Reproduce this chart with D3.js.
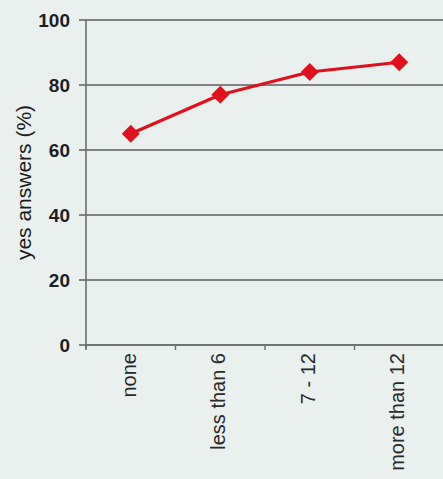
<!DOCTYPE html>
<html>
<head>
<meta charset="utf-8">
<script src="https://cdn.jsdelivr.net/npm/d3@7"></script>
<style>
  html, body { margin: 0; padding: 0; background: #e9f0ee; }
  svg { display: block; }
</style>
</head>
<body>
<script>
// Share of "yes" answers by number of sessions attended
const categories = ["none", "less than 6", "7 - 12", "more than 12"];
const yesValues = [65, 77, 84, 87];
const yTicks = [0, 20, 40, 60, 80, 100];

const W = 443, H = 479;
const margin = { top: 20, right: -1, bottom: 134, left: 86 };
const FONT = "Liberation Sans, Arial, sans-serif";

const svg = d3.select("body").append("svg")
  .attr("width", W).attr("height", H);

svg.append("rect").attr("width", W).attr("height", H).attr("fill", "#e9f0ee");

const x = d3.scaleBand()
  .domain(categories)
  .range([margin.left, W - margin.right]);

const y = d3.scaleLinear()
  .domain([0, 100])
  .range([H - margin.bottom, margin.top]);

// horizontal gridlines with small outer ticks
svg.append("g").selectAll("line")
  .data(yTicks)
  .join("line")
  .attr("x1", margin.left - 7)
  .attr("x2", W)
  .attr("y1", d => y(d))
  .attr("y2", d => y(d))
  .attr("stroke", "#5a5e5e")
  .attr("stroke-width", 1.6);

// y axis
const yAxis = svg.append("g")
  .attr("transform", `translate(${margin.left},0)`)
  .call(d3.axisLeft(y).tickValues(yTicks).tickSize(0).tickPadding(16));
yAxis.select(".domain").attr("stroke", "#6a6e6e").attr("stroke-width", 1.6)
  .attr("d", `M0,${y(0) + 4}V${y(100)}`);
yAxis.selectAll(".tick line").remove();
yAxis.selectAll("text")
  .attr("font-family", FONT)
  .attr("font-size", 19)
  .attr("font-weight", "bold")
  .attr("fill", "#1e1e1e");

// x axis with ticks at category boundaries
const xAxis = svg.append("g")
  .attr("transform", `translate(0,${y(0)})`);
xAxis.append("line")
  .attr("x1", margin.left).attr("x2", W)
  .attr("stroke", "#6a6e6e").attr("stroke-width", 1.6);
const bounds = categories.map(c => x(c)).concat([x(categories[categories.length - 1]) + x.bandwidth()]);
xAxis.selectAll("line.tk")
  .data(bounds)
  .join("line")
  .attr("class", "tk")
  .attr("x1", d => d).attr("x2", d => d)
  .attr("y1", 0).attr("y2", 5)
  .attr("stroke", "#6a6e6e").attr("stroke-width", 1.4);
xAxis.selectAll("text")
  .data(categories)
  .join("text")
  .attr("transform", d => `translate(${x(d) + x.bandwidth() / 2 + 5},8) rotate(-90)`)
  .attr("text-anchor", "end")
  .attr("font-family", FONT)
  .attr("font-size", 20)
  .attr("fill", "#2a2a2a")
  .text(d => d);

// y axis title
svg.append("text")
  .attr("transform", `translate(31,${(y(0) + y(100)) / 2}) rotate(-90)`)
  .attr("text-anchor", "middle")
  .attr("font-family", FONT)
  .attr("font-size", 21)
  .attr("fill", "#1a1a1a")
  .text("yes answers (%)");

// data line
const pts = categories.map((c, i) => [x(c) + x.bandwidth() / 2, y(yesValues[i])]);
svg.append("path")
  .datum(pts)
  .attr("d", d3.line())
  .attr("fill", "none")
  .attr("stroke", "#e0101e")
  .attr("stroke-width", 3.2)
  .attr("stroke-linejoin", "round");

// diamond markers
svg.selectAll("path.mk")
  .data(pts)
  .join("path")
  .attr("class", "mk")
  .attr("transform", d => `translate(${d[0]},${d[1]})`)
  .attr("d", "M0,-9L9,0L0,9L-9,0Z")
  .attr("fill", "#e0101e");
</script>
</body>
</html>
